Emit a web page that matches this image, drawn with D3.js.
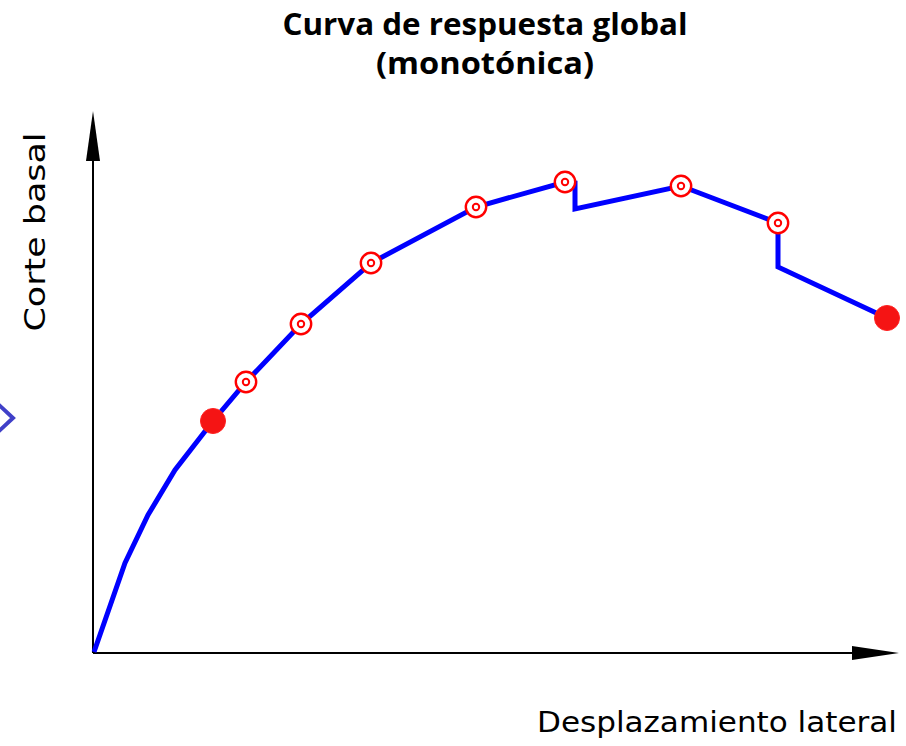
<!DOCTYPE html>
<html>
<head>
<meta charset="utf-8">
<script src="https://cdn.jsdelivr.net/npm/d3@7"></script>
<style>
  html, body { margin: 0; padding: 0; background: #fff; }
  svg { display: block; }
</style>
</head>
<body>
<svg id="chart" width="906" height="746"></svg>
<script>
// ---- data (arbitrary units: displacement, base shear) ----
const titleLines = ["Curva de respuesta global", "(monotónica)"];
const xLabel = "Desplazamiento lateral";
const yLabel = "Corte basal";

// curve vertices
const curveX = [0, 3.1, 5.4, 8.1, 11.9, 15.2, 20.7, 27.7, 38.2, 47.1, 48.1, 48.1, 58.7, 68.4, 68.4, 79.3];
const curveY = [0, 17.8, 27.4, 36.4, 46.2, 54.0, 65.6, 77.8, 89.0, 94.0, 93.8, 88.6, 93.2, 85.8, 77.0, 66.8];

// hollow target markers (performance states)
const targetX = [15.2, 20.7, 27.7, 38.2, 47.1, 58.7, 68.4];
const targetY = [54.0, 65.6, 77.8, 89.0, 94.0, 93.2, 85.8];

// filled markers (first yield, collapse)
const filledX = [11.9, 79.3];
const filledY = [46.2, 66.8];

// ---- scales ----
const svg = d3.select("#chart");
const x = d3.scaleLinear().domain([0, 80]).range([94, 894]);
const y = d3.scaleLinear().domain([0, 100]).range([652, 152]);

// ---- left edge chevron (slide navigation remnant) ----
svg.append("path")
  .attr("d", "M-2,404 L13,418 L-2,432")
  .attr("fill", "none")
  .attr("stroke", "#4040c8")
  .attr("stroke-width", 4);

// ---- axes with arrowheads ----
const ax0 = x(0) - 1, ay0 = y(0) + 1;
svg.append("line")
  .attr("x1", ax0).attr("y1", ay0).attr("x2", ax0).attr("y2", 160)
  .attr("stroke", "#000").attr("stroke-width", 2);
svg.append("path")
  .attr("d", `M${ax0},111 L${ax0 - 7},161 L${ax0 + 7},161 Z`)
  .attr("fill", "#000");
svg.append("line")
  .attr("x1", ax0).attr("y1", ay0).attr("x2", 853).attr("y2", ay0)
  .attr("stroke", "#000").attr("stroke-width", 2);
svg.append("path")
  .attr("d", `M899,${ay0} L852,${ay0 - 7} L852,${ay0 + 7} Z`)
  .attr("fill", "#000");

// ---- curve ----
const pts = curveX.map((d, i) => [d, curveY[i]]);
const line = d3.line().x(d => x(d[0])).y(d => y(d[1]));
svg.append("path")
  .datum(pts)
  .attr("d", line)
  .attr("fill", "none")
  .attr("stroke", "#0000ff")
  .attr("stroke-width", 5)
  .attr("stroke-linejoin", "miter");

// ---- markers ----
const targets = targetX.map((d, i) => [d, targetY[i]]);
const tg = svg.append("g").selectAll("g").data(targets).join("g")
  .attr("transform", d => `translate(${x(d[0])},${y(d[1])})`);
tg.append("circle").attr("r", 10.2).attr("fill", "#fff")
  .attr("stroke", "#ff0000").attr("stroke-width", 2.4);
tg.append("circle").attr("r", 3.2).attr("fill", "#fff")
  .attr("stroke", "#ff0000").attr("stroke-width", 2);

const filled = filledX.map((d, i) => [d, filledY[i]]);
svg.append("g").selectAll("circle").data(filled).join("circle")
  .attr("cx", d => x(d[0])).attr("cy", d => y(d[1]))
  .attr("r", 12.5)
  .attr("fill", "#f51414")
  .attr("stroke", "#ff2020")
  .attr("stroke-width", 1);

// ---- texts ----
const title = svg.append("text")
  .attr("text-anchor", "middle")
  .attr("font-family", "'Open Sans', 'Liberation Sans', sans-serif")
  .attr("font-weight", "bold")
  .attr("font-size", 30)
  .attr("fill", "#000");
title.append("tspan").attr("x", 485).attr("y", 35).text(titleLines[0])
  .attr("textLength", 405).attr("lengthAdjust", "spacingAndGlyphs");
title.append("tspan").attr("x", 485).attr("y", 74).text(titleLines[1])
  .attr("textLength", 218).attr("lengthAdjust", "spacingAndGlyphs");

svg.append("text")
  .attr("x", 897).attr("y", 732)
  .attr("text-anchor", "end")
  .attr("font-family", "'DejaVu Sans', sans-serif")
  .attr("font-size", 29)
  .attr("fill", "#000")
  .attr("textLength", 360).attr("lengthAdjust", "spacingAndGlyphs")
  .text(xLabel);

svg.append("text")
  .attr("transform", "translate(45,232) rotate(-90)")
  .attr("text-anchor", "middle")
  .attr("font-family", "'DejaVu Sans', sans-serif")
  .attr("font-size", 29)
  .attr("fill", "#000")
  .attr("textLength", 199).attr("lengthAdjust", "spacingAndGlyphs")
  .text(yLabel);
</script>
</body>
</html>
